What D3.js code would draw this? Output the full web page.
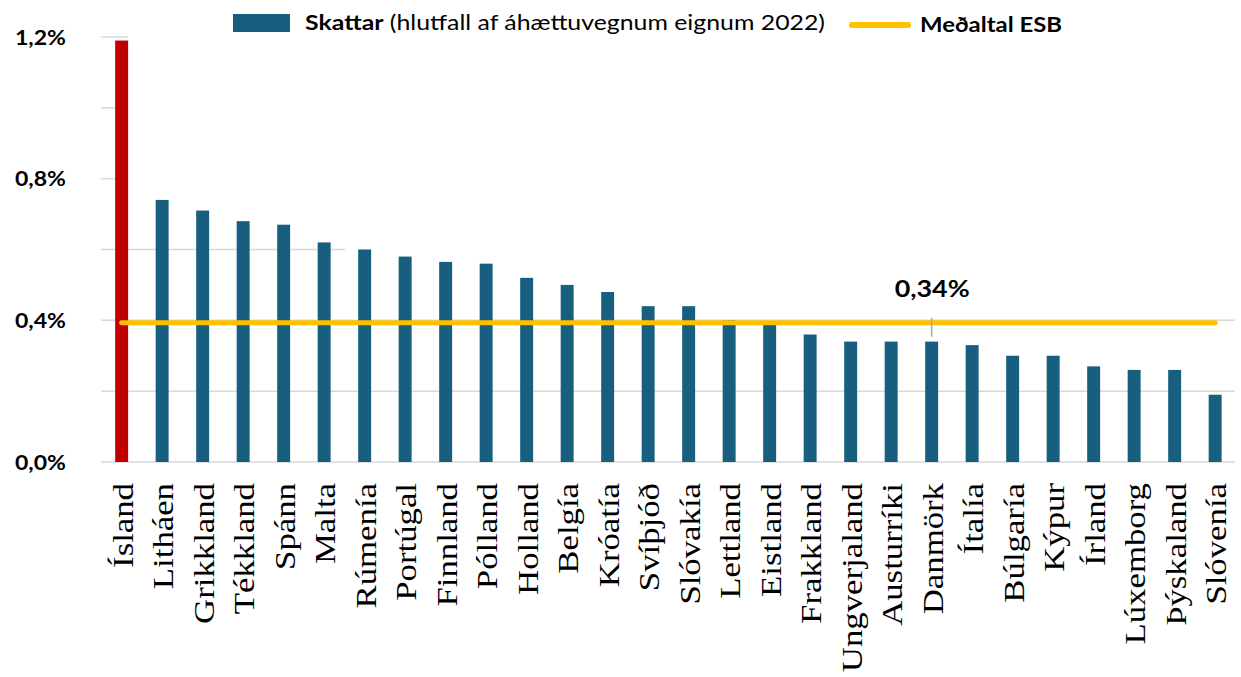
<!DOCTYPE html>
<html>
<head>
<meta charset="utf-8">
<script src="https://cdn.jsdelivr.net/npm/d3@7"></script>
<style>
  body { margin: 0; background: #fff; }
  svg { display: block; }
</style>
</head>
<body>
<div id="chart"></div>
<script>
// data
const countries = ["Ísland", "Litháen", "Grikkland", "Tékkland", "Spánn", "Malta", "Rúmenía",
  "Portúgal", "Finnland", "Pólland", "Holland", "Belgía", "Króatía", "Svíþjóð", "Slóvakía",
  "Lettland", "Eistland", "Frakkland", "Ungverjaland", "Austurríki", "Danmörk", "Ítalía",
  "Búlgaría", "Kýpur", "Írland", "Lúxemborg", "Þýskaland", "Slóvenía"];
const taxValues = [1.19, 0.74, 0.71, 0.68, 0.67, 0.62, 0.60, 0.58, 0.565, 0.56, 0.52, 0.50,
  0.48, 0.44, 0.44, 0.40, 0.395, 0.36, 0.34, 0.34, 0.34, 0.33, 0.30, 0.30, 0.27, 0.26, 0.26, 0.19];
const euAverage = 0.393;           // where the line is drawn
const euAverageLabel = "0,34%";    // label as printed
const labelCountry = "Danmörk";
const yTicks = [0, 0.2, 0.4, 0.6, 0.8, 1.0, 1.2];
const yTickLabels = ["0,0%", "", "0,4%", "", "0,8%", "", "1,2%"];

const W = 1241, H = 677;
const blue = "#185f7f", red = "#c00000", yellow = "#ffc000";

const svg = d3.select("#chart").append("svg")
  .attr("width", W).attr("height", H);

const x = d3.scaleBand()
  .domain(countries)
  .range([101.4, 1235.4])
  .paddingInner(0.68)
  .paddingOuter(0.34);

const y = d3.scaleLinear()
  .domain([0, 1.2])
  .range([462, 37]);

// gridlines (upper ones only show as short stubs near the axis)
const gridEnd = v => v <= 0.4 ? 1235 : (v < 0.7 ? 345 : 128);
svg.append("g").selectAll("line")
  .data(yTicks)
  .join("line")
    .attr("x1", 101)
    .attr("x2", d => gridEnd(d))
    .attr("y1", d => y(d))
    .attr("y2", d => y(d))
    .attr("stroke", "#d9d9d9")
    .attr("stroke-width", 1.5);

// y labels
svg.append("g").selectAll("text")
  .data(yTicks.filter((d, i) => yTickLabels[i]))
  .join("text")
    .attr("x", 15)
    .attr("y", d => y(d))
    .attr("dy", "0.36em")
    .attr("textLength", 51)
    .attr("lengthAdjust", "spacingAndGlyphs")
    .style("font-family", "Lato, sans-serif")
    .style("font-weight", "bold")
    .style("font-size", "21px")
    .text(d => yTickLabels[yTicks.indexOf(d)]);

// bars
svg.append("g").selectAll("rect")
  .data(countries)
  .join("rect")
    .attr("x", d => x(d))
    .attr("width", x.bandwidth())
    .attr("y", (d, i) => y(taxValues[i]))
    .attr("height", (d, i) => y(0) - y(taxValues[i]))
    .attr("fill", (d, i) => i === 0 ? red : blue);

// EU average line
const xc = d => x(d) + x.bandwidth() / 2;
svg.append("line")
  .attr("x1", xc(countries[0]))
  .attr("x2", xc(countries[countries.length - 1]))
  .attr("y1", y(euAverage))
  .attr("y2", y(euAverage))
  .attr("stroke", yellow)
  .attr("stroke-width", 5)
  .attr("stroke-linecap", "round");

// leader tick + label for the average
svg.append("line")
  .attr("x1", xc(labelCountry)).attr("x2", xc(labelCountry))
  .attr("y1", y(euAverage) - 5).attr("y2", y(euAverage) + 14)
  .attr("stroke", "#a6a6a6")
  .attr("stroke-width", 1.5);

svg.append("text")
  .attr("x", xc(labelCountry) - 37)
  .attr("y", 297)
  .attr("textLength", 75)
  .attr("lengthAdjust", "spacingAndGlyphs")
  .style("font-family", "Lato, sans-serif")
  .style("font-weight", "bold")
  .style("font-size", "22px")
  .text(euAverageLabel);

// x labels, rotated
svg.append("g").selectAll("text")
  .data(countries)
  .join("text")
    .attr("transform", d => `translate(${xc(d) + 11},483) rotate(-90) scale(1.14,1)`)
    .attr("text-anchor", "end")
    .style("font-family", "'Liberation Serif', 'Times New Roman', serif")
    .style("font-size", "30.5px")
    .text(d => d);

// legend
const legend = svg.append("g");
legend.append("rect")
  .attr("x", 233).attr("y", 14)
  .attr("width", 57).attr("height", 18)
  .attr("fill", blue);
const lt = legend.append("text")
  .attr("x", 305).attr("y", 30)
  .attr("textLength", 520)
  .attr("lengthAdjust", "spacingAndGlyphs")
  .style("font-family", "Lato, sans-serif")
  .style("font-size", "21px");
lt.append("tspan").style("font-weight", "bold").text("Skattar");
lt.append("tspan").text(" (hlutfall af áhættuvegnum eignum 2022)");

legend.append("line")
  .attr("x1", 852).attr("x2", 908)
  .attr("y1", 25).attr("y2", 25)
  .attr("stroke", yellow)
  .attr("stroke-width", 6)
  .attr("stroke-linecap", "round");
legend.append("text")
  .attr("x", 920).attr("y", 32)
  .attr("textLength", 142)
  .attr("lengthAdjust", "spacingAndGlyphs")
  .style("font-family", "Lato, sans-serif")
  .style("font-weight", "bold")
  .style("font-size", "21px")
  .text("Meðaltal ESB");
</script>
</body>
</html>
